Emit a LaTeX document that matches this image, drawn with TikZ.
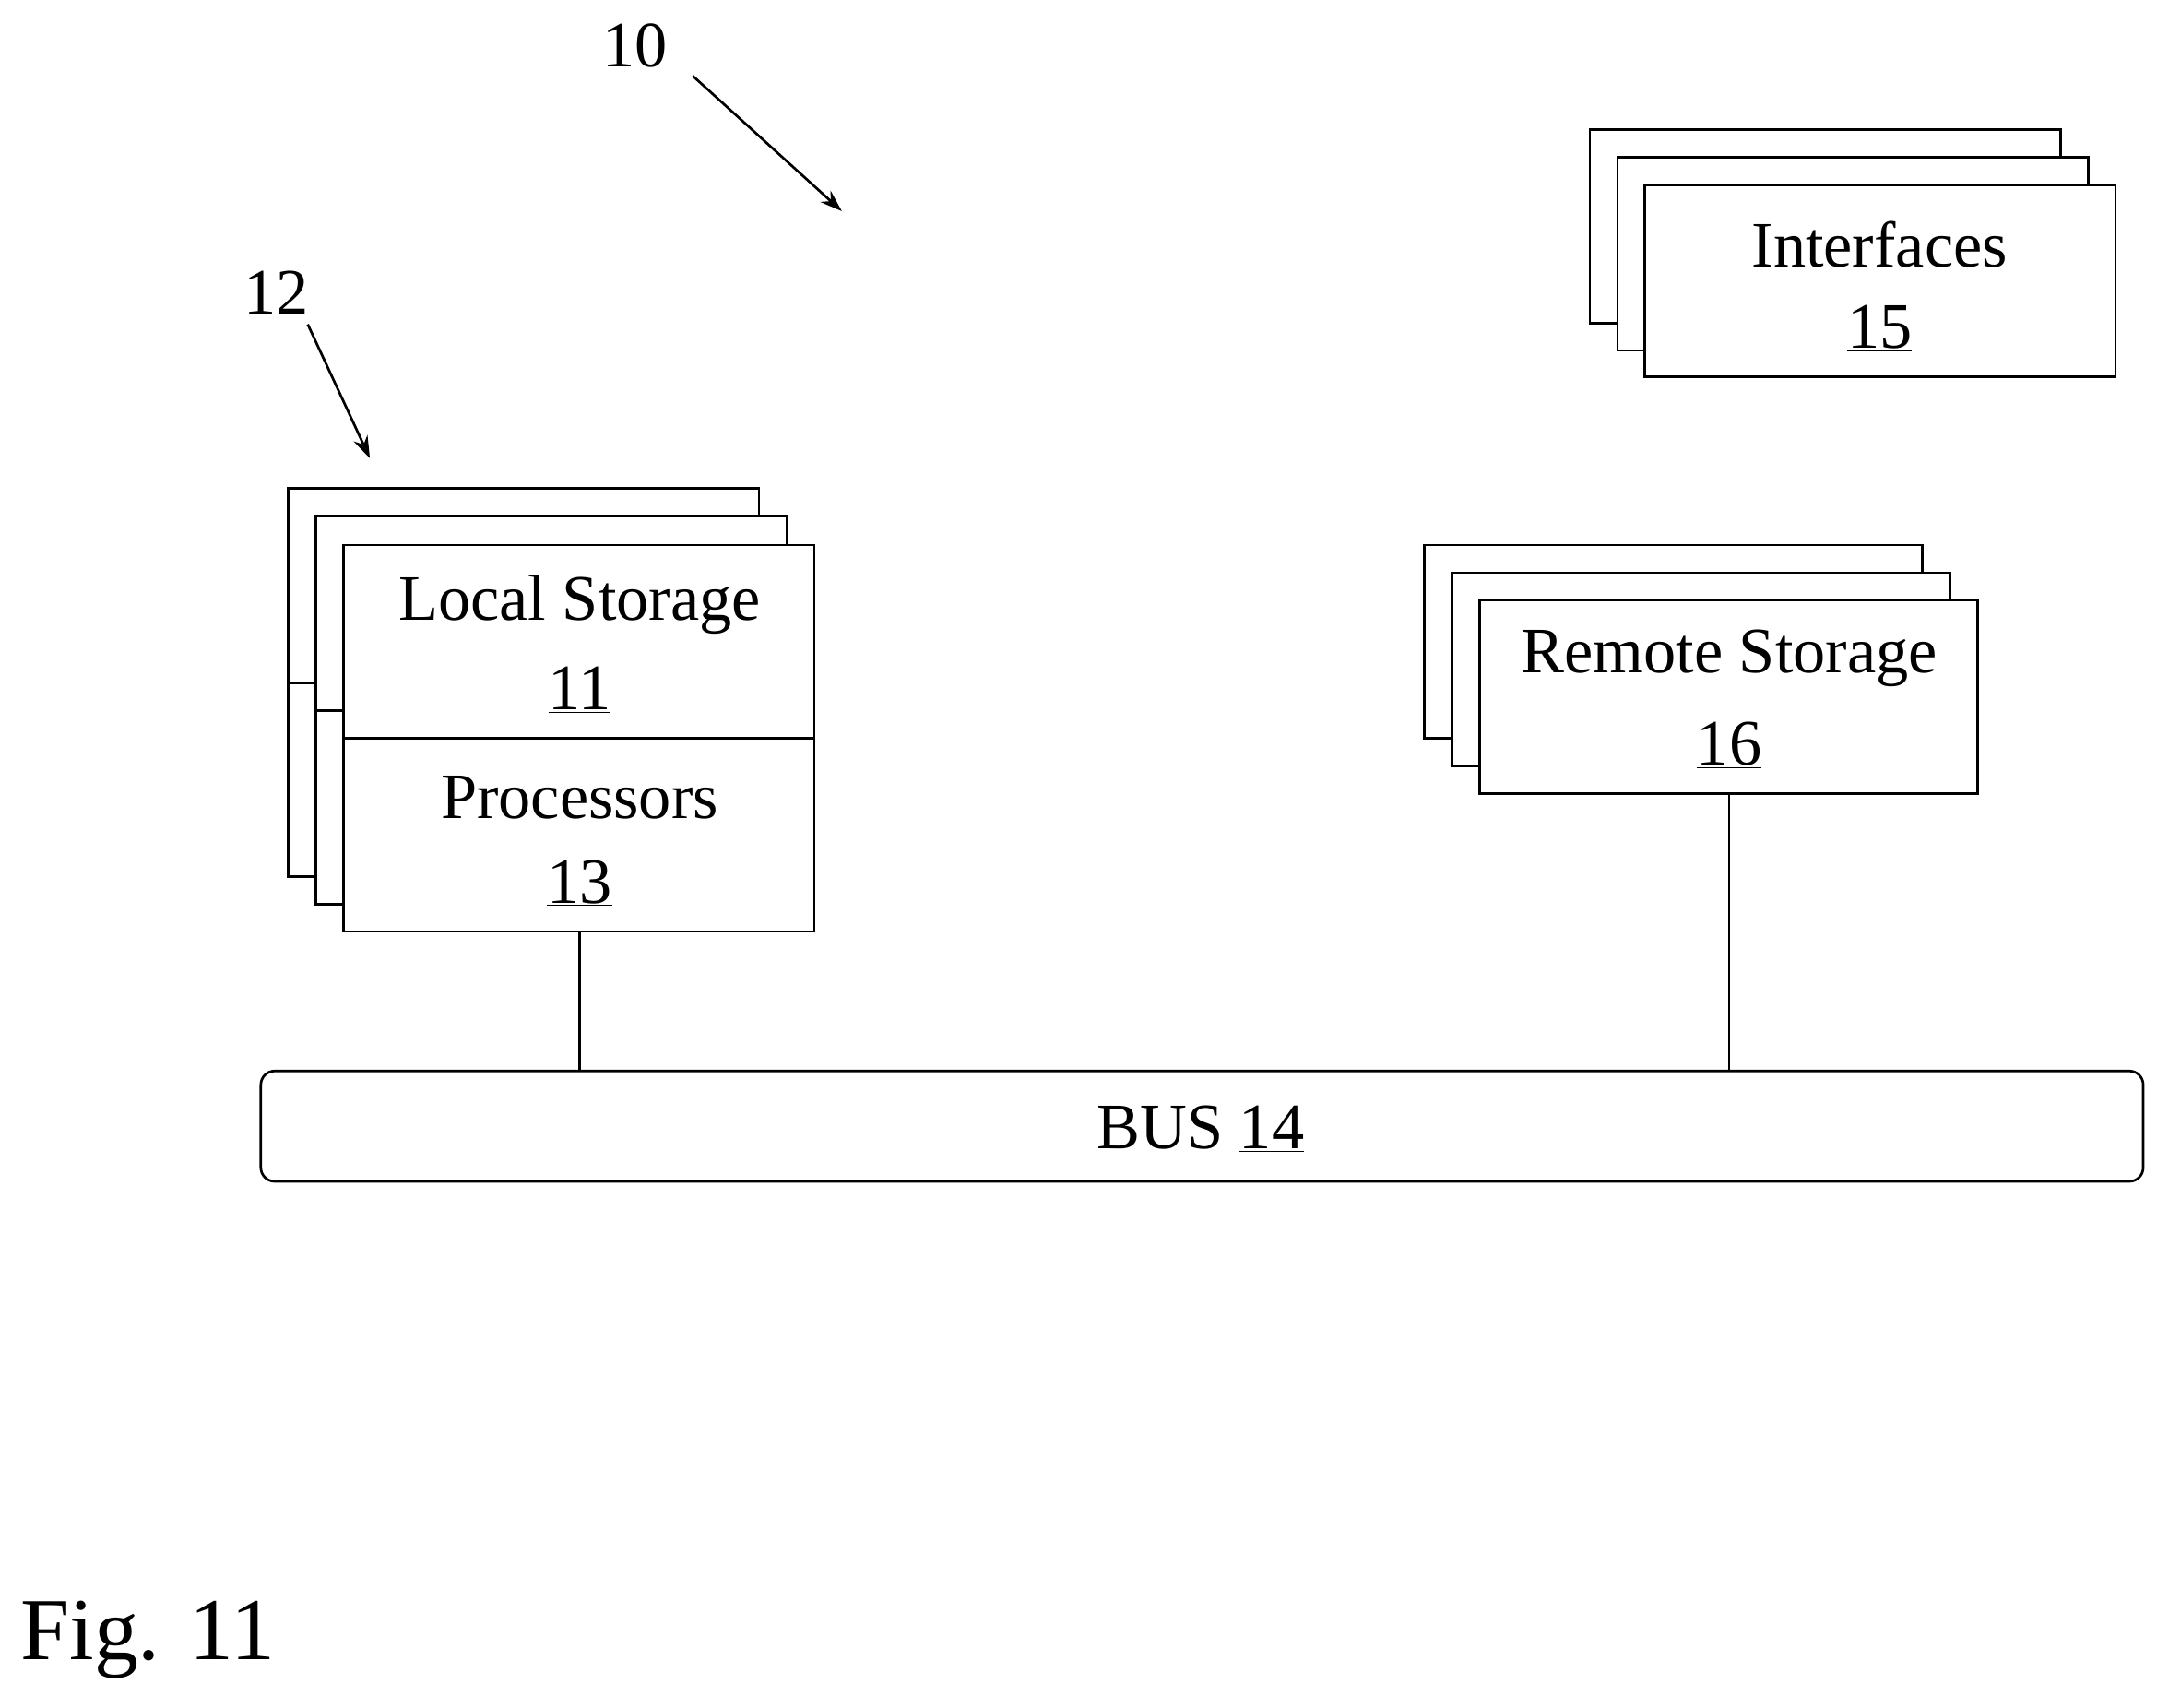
\documentclass[tikz,border=0pt]{standalone}
\usepackage{fontspec}
\setmainfont{Liberation Serif}
\usetikzlibrary{arrows.meta}
\newcommand{\ul}[1]{\underline{\smash{#1}}\vphantom{#1}}
\begin{document}
\begin{tikzpicture}[x=1pt,y=-1pt,line width=1.8pt,
  box/.style={draw,fill=white},
  lbl/.style={font=\fontsize{47}{52}\selectfont},
  arr/.style={-{Stealth[length=16pt,width=11pt]},line width=1.8pt}]
\useasboundingbox (0,0) rectangle (1563,1237);
\node[lbl] (n10) at (460,33) {10};
\coordinate (a10s) at (502,55); \coordinate (a10e) at (610,153);
\draw[arr] (a10s) -- (a10e);
\node[lbl] (n12) at (200,212) {12};
\coordinate (a12s) at (223,235); \coordinate (a12e) at (268,332);
\draw[arr] (a12s) -- (a12e);
% local stack
\draw[box] (209,354) rectangle (550,635);
\draw (209,495) -- (229,495);
\draw[box] (229,374) rectangle (570,655);
\draw (229,515) -- (249,515);
\draw[box] (249,395) rectangle (590,675);
\draw (249,535) -- (590,535);
\node[lbl] (ls) at (420,438) {Local Storage};
\node[lbl] (ls11) at (420,500) {\ul{11}};
\node[lbl] (pr) at (420,578) {Processors};
\node[lbl] (pr13) at (420,640) {\ul{13}};
\coordinate (procb) at (420,675);
% interfaces
\draw[box] (1152,94) rectangle (1493,234);
\draw[box] (1172,114) rectangle (1513,254);
\draw[box] (1192,134) rectangle (1533,273);
\node[lbl] (if) at (1362,177) {Interfaces};
\node[lbl] (if15) at (1362,238) {\ul{15}};
% remote
\draw[box] (1032,395) rectangle (1393,535);
\draw[box] (1052,415) rectangle (1413,555);
\draw[box] (1072,435) rectangle (1433,575);
\node[lbl] (rs) at (1253,477) {Remote Storage};
\node[lbl] (rs16) at (1253,540) {\ul{16}};
\coordinate (remb) at (1253,575);
% bus
\draw[rounded corners=10pt] (189,776) rectangle (1553,856);
\node[lbl] (bus) at (870,818) {BUS \ul{14}};
\coordinate (bus1) at (420,776); \coordinate (bus2) at (1253,776);
\draw (procb) -- (bus1);
\draw (remb) -- (bus2);
\node[font=\fontsize{64}{70}\selectfont] (fig) at (107,1188) {Fig. 11};
\end{tikzpicture}
\end{document}
